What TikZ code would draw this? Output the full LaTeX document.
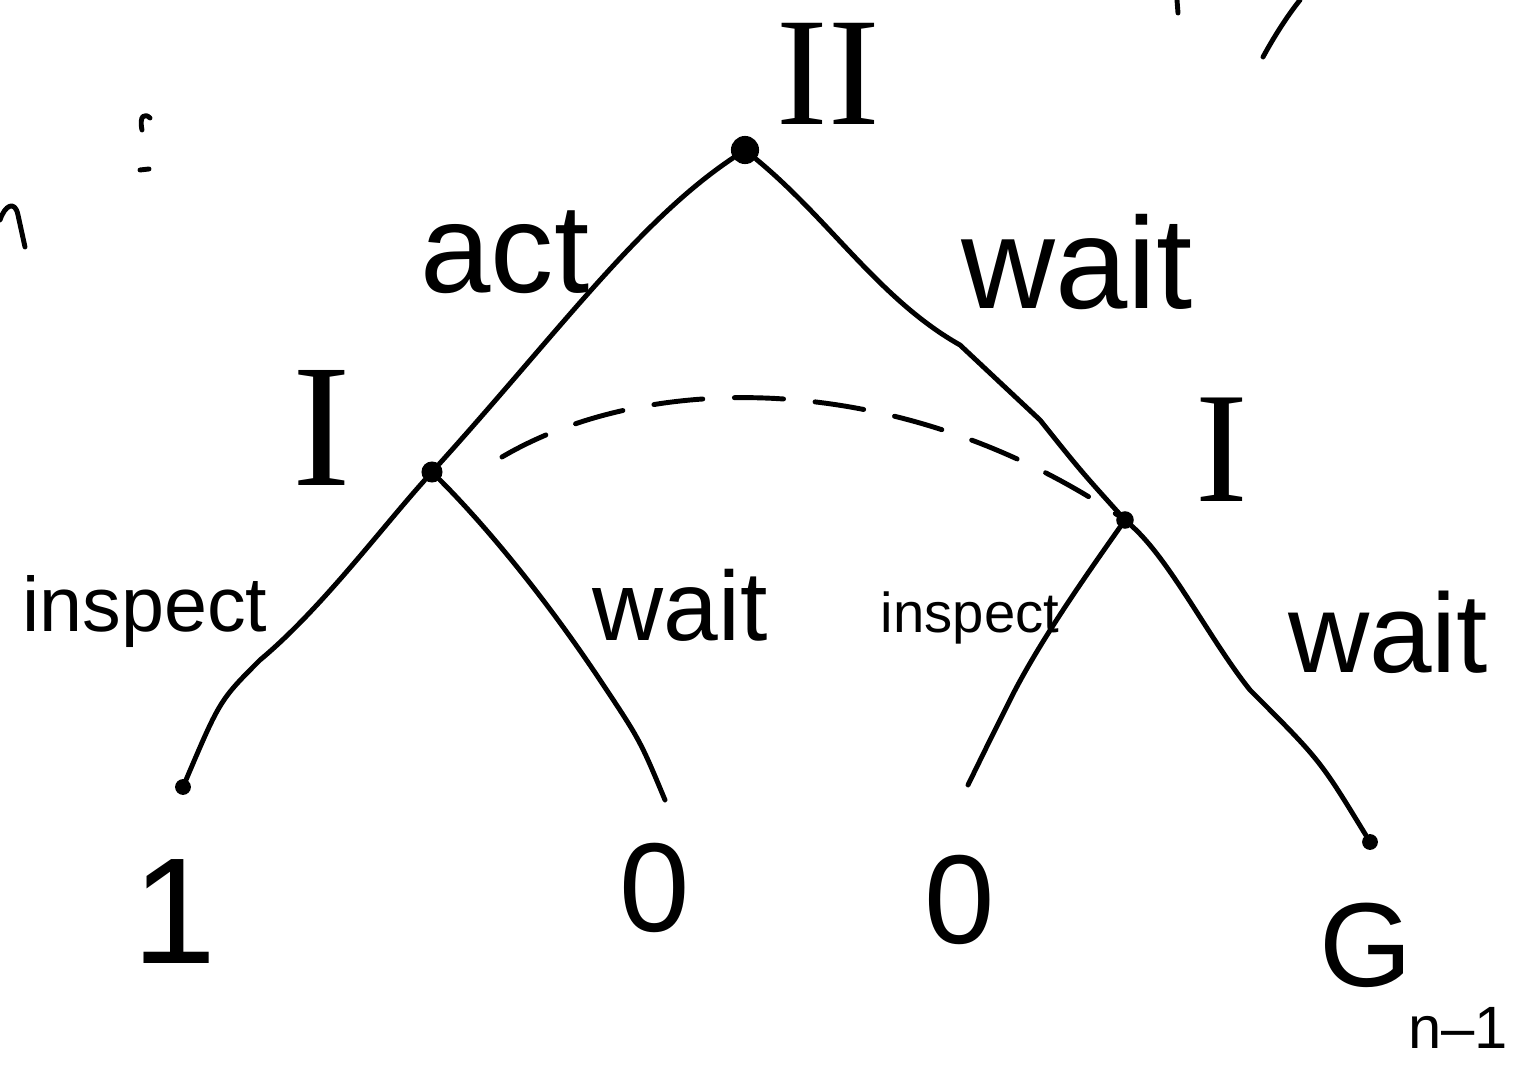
\documentclass[tikz,border=0pt]{standalone}
\usepackage{fontspec}
\setmainfont{Liberation Sans}
\newfontfamily\serifnum{Liberation Serif}
\begin{document}
\begin{tikzpicture}[x=0.02cm,y=-0.02cm,
  pen/.style={line width=2.8pt,line cap=round,line join=round},
  dotnode/.style={circle,fill=black,inner sep=0pt,minimum size=#1},
  lab/.style={inner sep=0pt,anchor=center},
  infoset/.style={pen,dash pattern=on 28pt off 18pt}]
\useasboundingbox (0,0) rectangle (1516,1067);
% decision nodes
\node[dotnode=16pt] (root) at (745,150) {};
\node[dotnode=12pt] (L) at (432,472) {};
\node[dotnode=10pt] (R) at (1125,520) {};
% terminal points
\node[dotnode=9pt] (t1) at (183,787) {};
\coordinate (t2) at (665,800);
\coordinate (t3) at (968,785);
\node[dotnode=9pt] (t4) at (1370,842) {};
% player labels
\node[lab,font=\serifnum\fontsize{88}{88}\selectfont] (pII) at (828,74) {II};
\node[lab,font=\serifnum\fontsize{100}{100}\selectfont] (pI1) at (322,428) {I};
\node[lab,font=\serifnum\fontsize{90}{90}\selectfont] (pI2) at (1222,450) {I};
% edges
\draw[pen] (root) .. controls (640,220) and (560,330) .. (L);
\draw[pen] (root) .. controls (830,220) and (880,300) .. (960,345) -- (1040,420) .. controls (1080,470) .. (R);
\draw[pen] (L) .. controls (380,530) and (320,610) .. (260,660) .. controls (220,700) .. (t1);
\draw[pen] (L) .. controls (480,520) and (540,590) .. (600,680) .. controls (640,740) .. (t2);
\draw[pen] (R) .. controls (1090,570) and (1040,640) .. (1010,700) .. controls (990,740) .. (t3);
\draw[pen] (R) .. controls (1170,560) and (1210,640) .. (1250,690) .. controls (1320,760) .. (t4);
% information set
\draw[infoset] (L) ++(70,-15) .. controls (650,370) and (900,370) .. (R);
% action labels
\node[lab,font=\fontsize{72}{72}\selectfont] (act) at (505,252) {act};
\node[lab,font=\fontsize{74}{74}\selectfont] (w1) at (1077,262) {wait};
\node[lab,font=\fontsize{44}{44}\selectfont] (ins1) at (145,612) {inspect};
\node[lab,font=\fontsize{56}{56}\selectfont] (w2) at (680,605) {wait};
\node[lab,font=\fontsize{32}{32}\selectfont] (ins2) at (970,618) {inspect};
\node[lab,font=\fontsize{64}{64}\selectfont] (w3) at (1388,632) {wait};
% payoffs
\node[lab,font=\fontsize{86}{86}\selectfont] (v1) at (175,912) {1};
\node[lab,font=\fontsize{72}{72}\selectfont] (v2) at (655,888) {0};
\node[lab,font=\fontsize{72}{72}\selectfont] (v3) at (960,900) {0};
\node[lab,font=\fontsize{68}{68}\selectfont] (v4) at (1366,945) {G};
\node[lab,font=\fontsize{34}{34}\selectfont] (v4s) at (1458,1028) {n–1};
% cut-off strokes at the edges
\draw[pen] (1177,0) -- (1178,13);
\draw[pen] (1263,57) .. controls (1275,35) and (1288,15) .. (1300,0);
\draw[pen] (142,130) .. controls (139,115) and (145,113) .. (150,118);
\draw[pen] (140,170) -- (149,169);
\draw[pen] (0,220) .. controls (5,205) and (15,200) .. (18,215) -- (25,247);
\end{tikzpicture}
\end{document}
